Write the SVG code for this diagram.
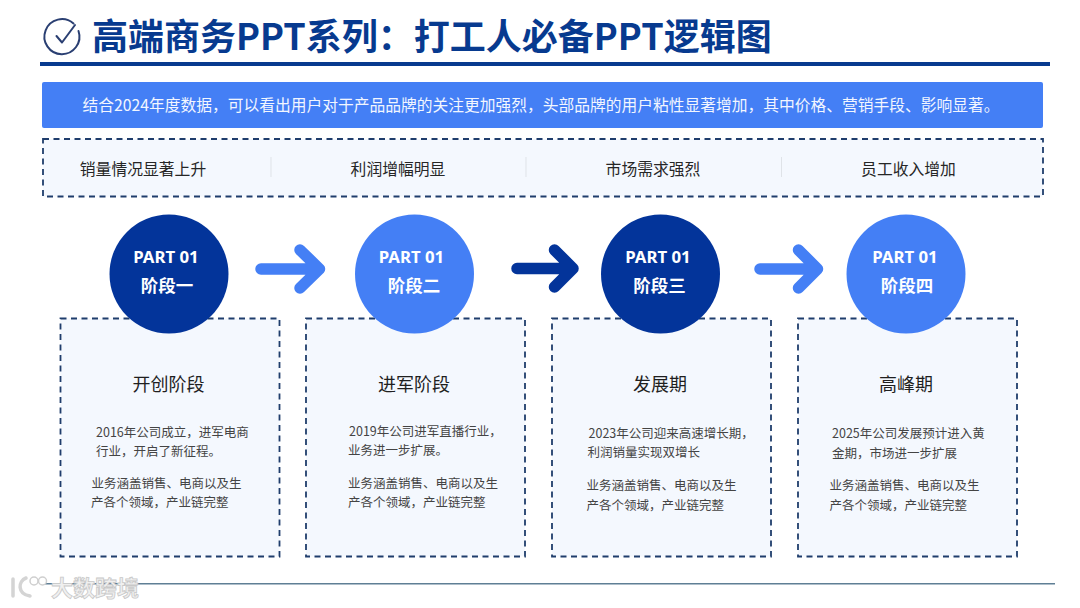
<svg xmlns="http://www.w3.org/2000/svg" width="1080" height="608" viewBox="0 0 1080 608">
<style>
text{font-family:"Noto Sans CJK SC","Noto Sans",sans-serif}
.card{fill:#f4f8fe;stroke:#1f3d6c;stroke-width:1.8;stroke-dasharray:6 4.5}
.top{font-size:15.8px;fill:#262626;text-anchor:middle}
.sep{stroke:#dfe3e8;stroke-width:1}
.part{font-size:16.8px;font-weight:700;fill:#fff;text-anchor:middle;font-family:"Noto Sans","Noto Sans CJK SC",sans-serif}
.stage{font-size:17.5px;font-weight:700;fill:#fff;text-anchor:middle}
.head{font-size:18px;fill:#1f1f1f;text-anchor:middle}
.body{font-size:12.5px;fill:#444}
.arrow{fill:none;stroke-width:11.5;stroke-linecap:round;stroke-linejoin:round}
.dark{fill:#03349a}
.light{fill:#447ff5}
</style>
<rect width="1080" height="608" fill="#fff"/>
<g id="title">
<path d="M73.500 23.500A17.500 17.500 0 1 0 78.500 31" fill="none" stroke="#2a3f72" stroke-width="2" stroke-linecap="round"/>
<path d="M56.500 36L62 42.500L75 25" fill="none" stroke="#2a3f72" stroke-width="2" stroke-linecap="round" stroke-linejoin="round"/>
<text x="92" y="50" font-size="36" font-weight="700" fill="#073a8f">高端商务PPT系列：打工人必备PPT逻辑图</text>
<rect x="40" y="62" width="1010" height="4" fill="#073a8f"/>
</g>
<g id="banner">
<rect x="42" y="82" width="1001" height="46" rx="2" fill="#447ff5"/>
<text x="538" y="111" font-size="15.75" fill="#f2f6ff" text-anchor="middle" dx="3">结合2024年度数据，可以看出用户对于产品品牌的关注更加强烈，头部品牌的用户粘性显著增加，其中价格、营销手段、影响显著。</text>
</g>
<g id="metrics">
<rect x="43" y="139" width="1000" height="57.500" class="card"/>
<text x="143" y="175" class="top">销量情况显著上升</text>
<text x="398" y="175" class="top">利润增幅明显</text>
<text x="653" y="175" class="top">市场需求强烈</text>
<text x="908.500" y="175" class="top">员工收入增加</text>
<path class="sep" d="M271 157V177M526 157V177M781.500 157V177"/>
</g>
<g id="connectors">
<path class="arrow" d="M261 269H319.500M300 250L319.500 269L300 288" stroke="#447ff5"/>
<path class="arrow" d="M517 268.500H573M554.500 250L573 268.500L554.500 287" stroke="#03349a"/>
<path class="arrow" d="M760 269H817.500M798.500 250L817.500 269L798.500 288" stroke="#447ff5"/>
</g>
<g id="stage1">
<rect x="60.500" y="318.500" width="219" height="238" class="card"/>
<circle cx="169" cy="274" r="59.500" class="dark"/>
<text x="166" y="262.500" class="part">PART 01</text>
<text x="167" y="292" class="stage">阶段一</text>
<text x="168.500" y="391" class="head">开创阶段</text>
<text x="96" y="437" class="body">2016年公司成立，进军电商</text>
<text x="96" y="456" class="body">行业，开启了新征程。</text>
<text x="91.500" y="488" class="body">业务涵盖销售、电商以及生</text>
<text x="91" y="507" class="body">产各个领域，产业链完整</text>
</g>
<g id="stage2">
<rect x="306" y="318.500" width="219" height="238" class="card"/>
<circle cx="414.500" cy="274" r="59.500" class="light"/>
<text x="411.500" y="262.500" class="part">PART 01</text>
<text x="414" y="292" class="stage">阶段二</text>
<text x="414" y="391" class="head">进军阶段</text>
<text x="349" y="436" class="body">2019年公司进军直播行业，</text>
<text x="348" y="455" class="body">业务进一步扩展。</text>
<text x="348" y="488" class="body">业务涵盖销售、电商以及生</text>
<text x="348" y="507" class="body">产各个领域，产业链完整</text>
</g>
<g id="stage3">
<rect x="552" y="318.500" width="219" height="238" class="card"/>
<circle cx="660.500" cy="274" r="59.500" class="dark"/>
<text x="658" y="262.500" class="part">PART 01</text>
<text x="659.500" y="292" class="stage">阶段三</text>
<text x="660" y="391" class="head">发展期</text>
<text x="588.500" y="438" class="body">2023年公司迎来高速增长期，</text>
<text x="587.500" y="457" class="body">利润销量实现双增长</text>
<text x="586.500" y="490" class="body">业务涵盖销售、电商以及生</text>
<text x="586.500" y="510" class="body">产各个领域，产业链完整</text>
</g>
<g id="stage4">
<rect x="798" y="318.500" width="219" height="238" class="card"/>
<circle cx="906" cy="274" r="59.500" class="light"/>
<text x="905" y="262.500" class="part">PART 01</text>
<text x="907" y="292" class="stage">阶段四</text>
<text x="906" y="391" class="head">高峰期</text>
<text x="832" y="438" class="body">2025年公司发展预计进入黄</text>
<text x="832" y="458" class="body">金期，市场进一步扩展</text>
<text x="829.500" y="490" class="body">业务涵盖销售、电商以及生</text>
<text x="829.500" y="510" class="body">产各个领域，产业链完整</text>
</g>
<g id="footer">
<rect x="45" y="583" width="1010" height="1.500" fill="#5f7f95"/>
<path d="M13 579L13 596M26 578C18 581 17 594 30 596" fill="none" stroke="#d4d4d4" stroke-width="3.500" stroke-linecap="round"/>
<circle cx="34" cy="581" r="4" fill="#fff" stroke="#cfcfcf" stroke-width="1.500"/><circle cx="42.500" cy="581" r="4" fill="#fff" stroke="#cfcfcf" stroke-width="1.500"/>
<text x="51" y="596" font-size="22" font-weight="700" fill="#f0f0f0" stroke="#c8c8c8" stroke-width="0.800">大数跨境</text>
</g>
</svg>
